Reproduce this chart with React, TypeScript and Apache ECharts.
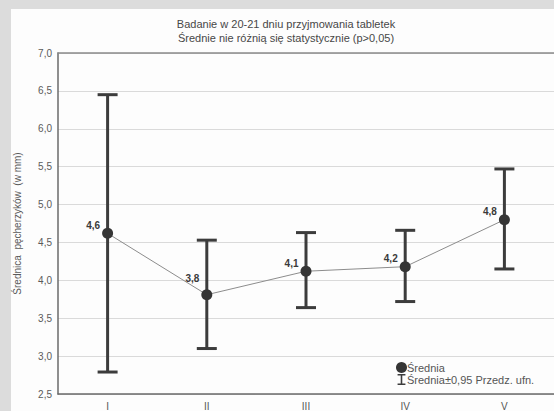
import React, { useEffect, useRef } from "react";
import * as echarts from "echarts";

const categories = ["I", "II", "III", "IV", "V"];
const means = [4.62, 3.81, 4.12, 4.18, 4.8];
const lower = [2.79, 3.1, 3.64, 3.72, 4.15];
const upper = [6.45, 4.53, 4.63, 4.66, 5.47];
const meanLabels = ["4,6", "3,8", "4,1", "4,2", "4,8"];
const yTicks = { min: 2.5, max: 7.0, interval: 0.5 };

const titleLines = [
  "Badanie w 20-21 dniu przyjmowania tabletek",
  "Średnie nie różnią się statystycznie (p>0,05)",
];
const yName = "Średnica  pęcherzyków  (w mm)";
const meanName = "Średnia";
const ciName = "Średnia±0,95 Przedz. ufn.";

export default function App() {
  const ref = useRef<HTMLDivElement>(null);
  useEffect(() => {
    if (!ref.current) return;
    const chart = echarts.init(ref.current, null, { renderer: "svg" });
    const ibeam =
      "path://M0,0L10,0L10,2L6,2L6,12L10,12L10,14L0,14L0,12L4,12L4,2L0,2Z";
    const font = "Liberation Sans, Arial, sans-serif";
    chart.setOption({
      animation: false,
      backgroundColor: "#fdfdfd",
      textStyle: { fontFamily: font },
      graphic: [
        { type: "rect", shape: { x: 0, y: 0, width: 554, height: 9 }, style: { fill: "#dcdcdc" }, silent: true },
        { type: "rect", shape: { x: 0, y: 0, width: 11, height: 411 }, style: { fill: "#dcdcdc" }, silent: true },
        {
          type: "text",
          x: 286,
          y: 24,
          style: {
            text: titleLines[0],
            fill: "#474747",
            fontSize: 11,
            fontFamily: font,
            textAlign: "center",
            textVerticalAlign: "middle",
          },
        },
        {
          type: "text",
          x: 286,
          y: 38,
          style: {
            text: titleLines[1],
            fill: "#474747",
            fontSize: 11,
            fontFamily: font,
            textAlign: "center",
            textVerticalAlign: "middle",
          },
        },
      ],
      legend: {
        left: 396,
        top: 362,
        orient: "vertical",
        itemWidth: 11,
        itemHeight: 11,
        itemGap: 1,
        padding: 0,
        textStyle: { fontSize: 11, color: "#555", padding: [0, 0, 0, -5] },
        data: [
          { name: meanName, icon: "circle", itemStyle: { color: "#353535" } },
          { name: ciName, icon: ibeam, itemStyle: { color: "#3c3c3c" } },
        ],
      },
      grid: { left: 58, top: 53, width: 498, height: 342, containLabel: false },
      xAxis: [
        {
          type: "category",
          data: categories,
          boundaryGap: true,
          axisLine: { lineStyle: { color: "#6a6a6a", width: 1.5 } },
          axisTick: { alignWithLabel: true, length: 4, lineStyle: { color: "#888" } },
          axisLabel: { fontSize: 10, color: "#555", margin: 7 },
          splitLine: { show: false },
        },
        {
          type: "category",
          data: categories,
          position: "top",
          boundaryGap: true,
          axisLine: { lineStyle: { color: "#8a8a8a", width: 1.5 } },
          axisTick: { alignWithLabel: true, length: 3, lineStyle: { color: "#888" } },
          axisLabel: { show: false },
        },
      ],
      yAxis: {
        type: "value",
        min: yTicks.min,
        max: yTicks.max,
        interval: yTicks.interval,
        name: yName,
        nameLocation: "middle",
        nameGap: 36,
        nameTextStyle: { fontSize: 10, color: "#5a5a5a" },
        axisLine: { show: true, lineStyle: { color: "#6a6a6a", width: 1.5 } },
        axisTick: { show: false },
        axisLabel: {
          fontSize: 10,
          color: "#5a5a5a",
          margin: 6,
          formatter: (v: number) => v.toFixed(1).replace(".", ","),
        },
        splitLine: { lineStyle: { color: "#dadada", width: 1 } },
      },
      series: [
        {
          name: ciName,
          type: "custom",
          data: categories.map((_, i) => [i, lower[i], upper[i]]),
          renderItem: (params: any, api: any) => {
            const lo = api.coord([api.value(0), api.value(1)]);
            const hi = api.coord([api.value(0), api.value(2)]);
            const hw = 10;
            const style = { stroke: "#3c3c3c", lineWidth: 3 };
            return {
              type: "group",
              children: [
                { type: "line", shape: { x1: lo[0], y1: lo[1], x2: hi[0], y2: hi[1] }, style },
                { type: "line", shape: { x1: lo[0] - hw, y1: lo[1], x2: lo[0] + hw, y2: lo[1] }, style },
                { type: "line", shape: { x1: hi[0] - hw, y1: hi[1], x2: hi[0] + hw, y2: hi[1] }, style },
              ],
            };
          },
          itemStyle: { color: "#3c3c3c" },
          z: 2,
        },
        {
          name: meanName,
          type: "line",
          data: means.map((v, i) => ({
            value: v,
            label: { offset: i === 1 ? [2, -16] : [2, -8] },
          })),
          symbol: "circle",
          symbolSize: 11,
          lineStyle: { color: "#8c8c8c", width: 1 },
          itemStyle: { color: "#353535" },
          label: {
            show: true,
            position: "left",
            distance: 4,
            fontSize: 10,
            fontWeight: "bold",
            color: "#3a3a3a",
            formatter: (p: any) => meanLabels[p.dataIndex],
          },
          z: 3,
        },
      ],
    });
    return () => chart.dispose();
  }, []);
  return (
    <div
      ref={ref}
      style={{ position: "fixed", left: 0, top: 0, width: 554, height: 411 }}
    />
  );
}
